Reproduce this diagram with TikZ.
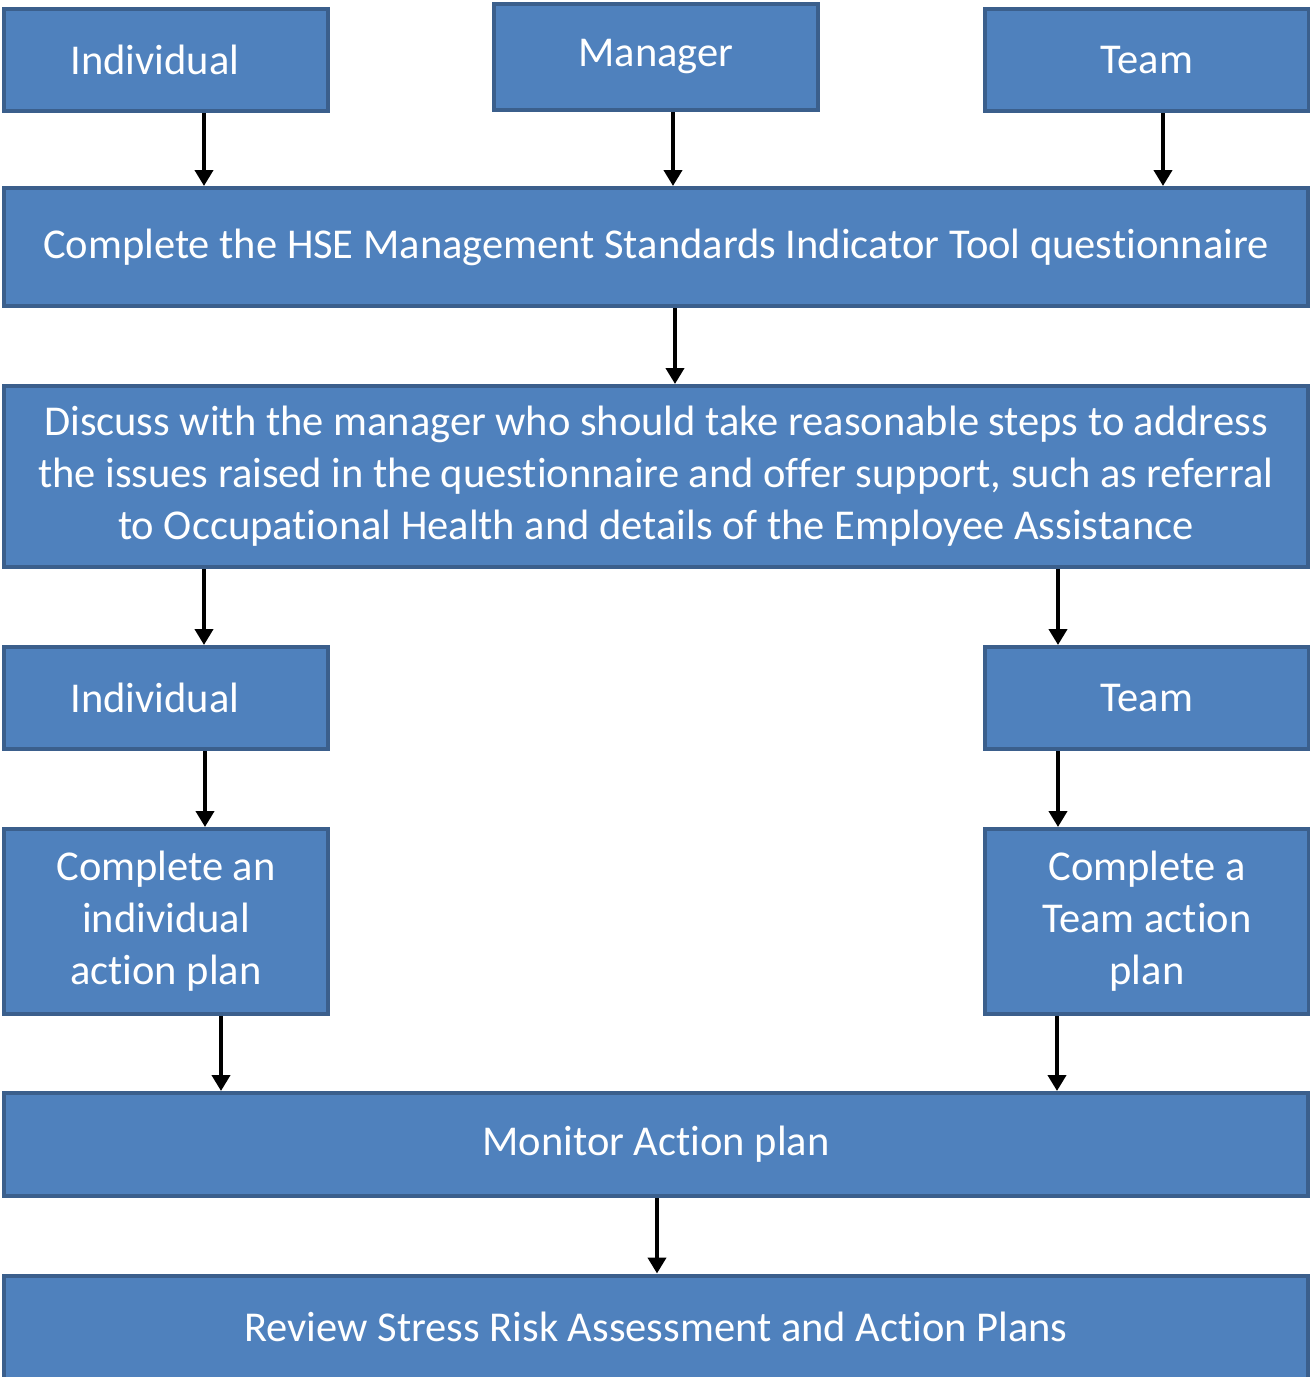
\documentclass[tikz,border=0pt]{standalone}
\usepackage{fontspec}
\setmainfont[Ligatures=NoCommon]{Carlito}
\usetikzlibrary{arrows.meta,positioning}
\definecolor{boxfill}{HTML}{4F81BD}
\definecolor{boxline}{HTML}{3B5F8C}

\begin{document}
\begin{tikzpicture}[x=1pt, y=-1pt, >={Triangle[length=16pt,width=18pt]},
    box/.style={draw=boxline, fill=boxfill, line width=4pt, text=white,
      inner sep=0pt, align=center, font=\fontsize{42.5}{52}\selectfont},
    flow/.style={->, line width=4pt}]
      \useasboundingbox (0,0) rectangle (1310,1377);

      \node[box, minimum width=324pt, minimum height=102pt] (ind) at (166,60) {\hspace*{-22pt}Individual};
      \node[box, minimum width=324pt, minimum height=106pt] (mgr) at (656,57) {Manager};
      \node[box, minimum width=324pt, minimum height=102pt] (team) at (1147,60) {Team};

      \node[box, minimum width=1304pt, minimum height=118pt] (hse) at (656,247) {Complete the HSE Management Standards Indicator Tool questionnaire};
      \node[box, minimum width=1304pt, minimum height=181pt] (talk) at (656,476.5)
        {Discuss with the manager who should take reasonable steps to address\\
         the issues raised in the questionnaire and offer support, such as referral\\
         to Occupational Health and details of the Employee Assistance};

      \node[box, minimum width=324pt, minimum height=102pt] (indtwo) at (166,698) {\hspace*{-22pt}Individual};
      \node[box, minimum width=324pt, minimum height=102pt] (teamtwo) at (1147,698) {Team};

      \node[box, minimum width=324pt, minimum height=185pt] (indplan) at (166,921.5) {Complete an\\individual\\action plan};
      \node[box, minimum width=324pt, minimum height=185pt] (teamplan) at (1147,921.5) {Complete a\\Team action\\plan};

      \node[box, minimum width=1304pt, minimum height=103pt] (monitor) at (656,1144.5) {Monitor Action plan};
      \node[box, minimum width=1304pt, minimum height=103pt] (review) at (656,1327) {Review Stress Risk Assessment and Action Plans};

      % arrows between the steps
      \draw[flow] ([xshift=38pt]ind.south) -- ([xshift=38pt]ind.south |- hse.north);
      \draw[flow] ([xshift=17pt]mgr.south) -- ([xshift=17pt]mgr.south |- hse.north);
      \draw[flow] ([xshift=16pt]team.south) -- ([xshift=16pt]team.south |- hse.north);
      \draw[flow] ([xshift=19pt]hse.south) -- ([xshift=19pt]hse.south |- talk.north);
      \draw[flow] (talk.south -| indtwo.north) ++(38pt,0) coordinate (a1) (a1) -- (a1 |- indtwo.north);
      \draw[flow] (talk.south -| teamtwo.north) ++(-89pt,0) coordinate (a2) (a2) -- (a2 |- teamtwo.north);
      \draw[flow] ([xshift=39pt]indtwo.south) -- ([xshift=39pt]indtwo.south |- indplan.north);
      \draw[flow] ([xshift=-89pt]teamtwo.south) -- ([xshift=-89pt]teamtwo.south |- teamplan.north);
      \draw[flow] ([xshift=55pt]indplan.south) -- ([xshift=55pt]indplan.south |- monitor.north);
      \draw[flow] ([xshift=-90pt]teamplan.south) -- ([xshift=-90pt]teamplan.south |- monitor.north);
      \draw[flow] ([xshift=1pt]monitor.south) -- ([xshift=1pt]monitor.south |- review.north);
\end{tikzpicture}
\end{document}
